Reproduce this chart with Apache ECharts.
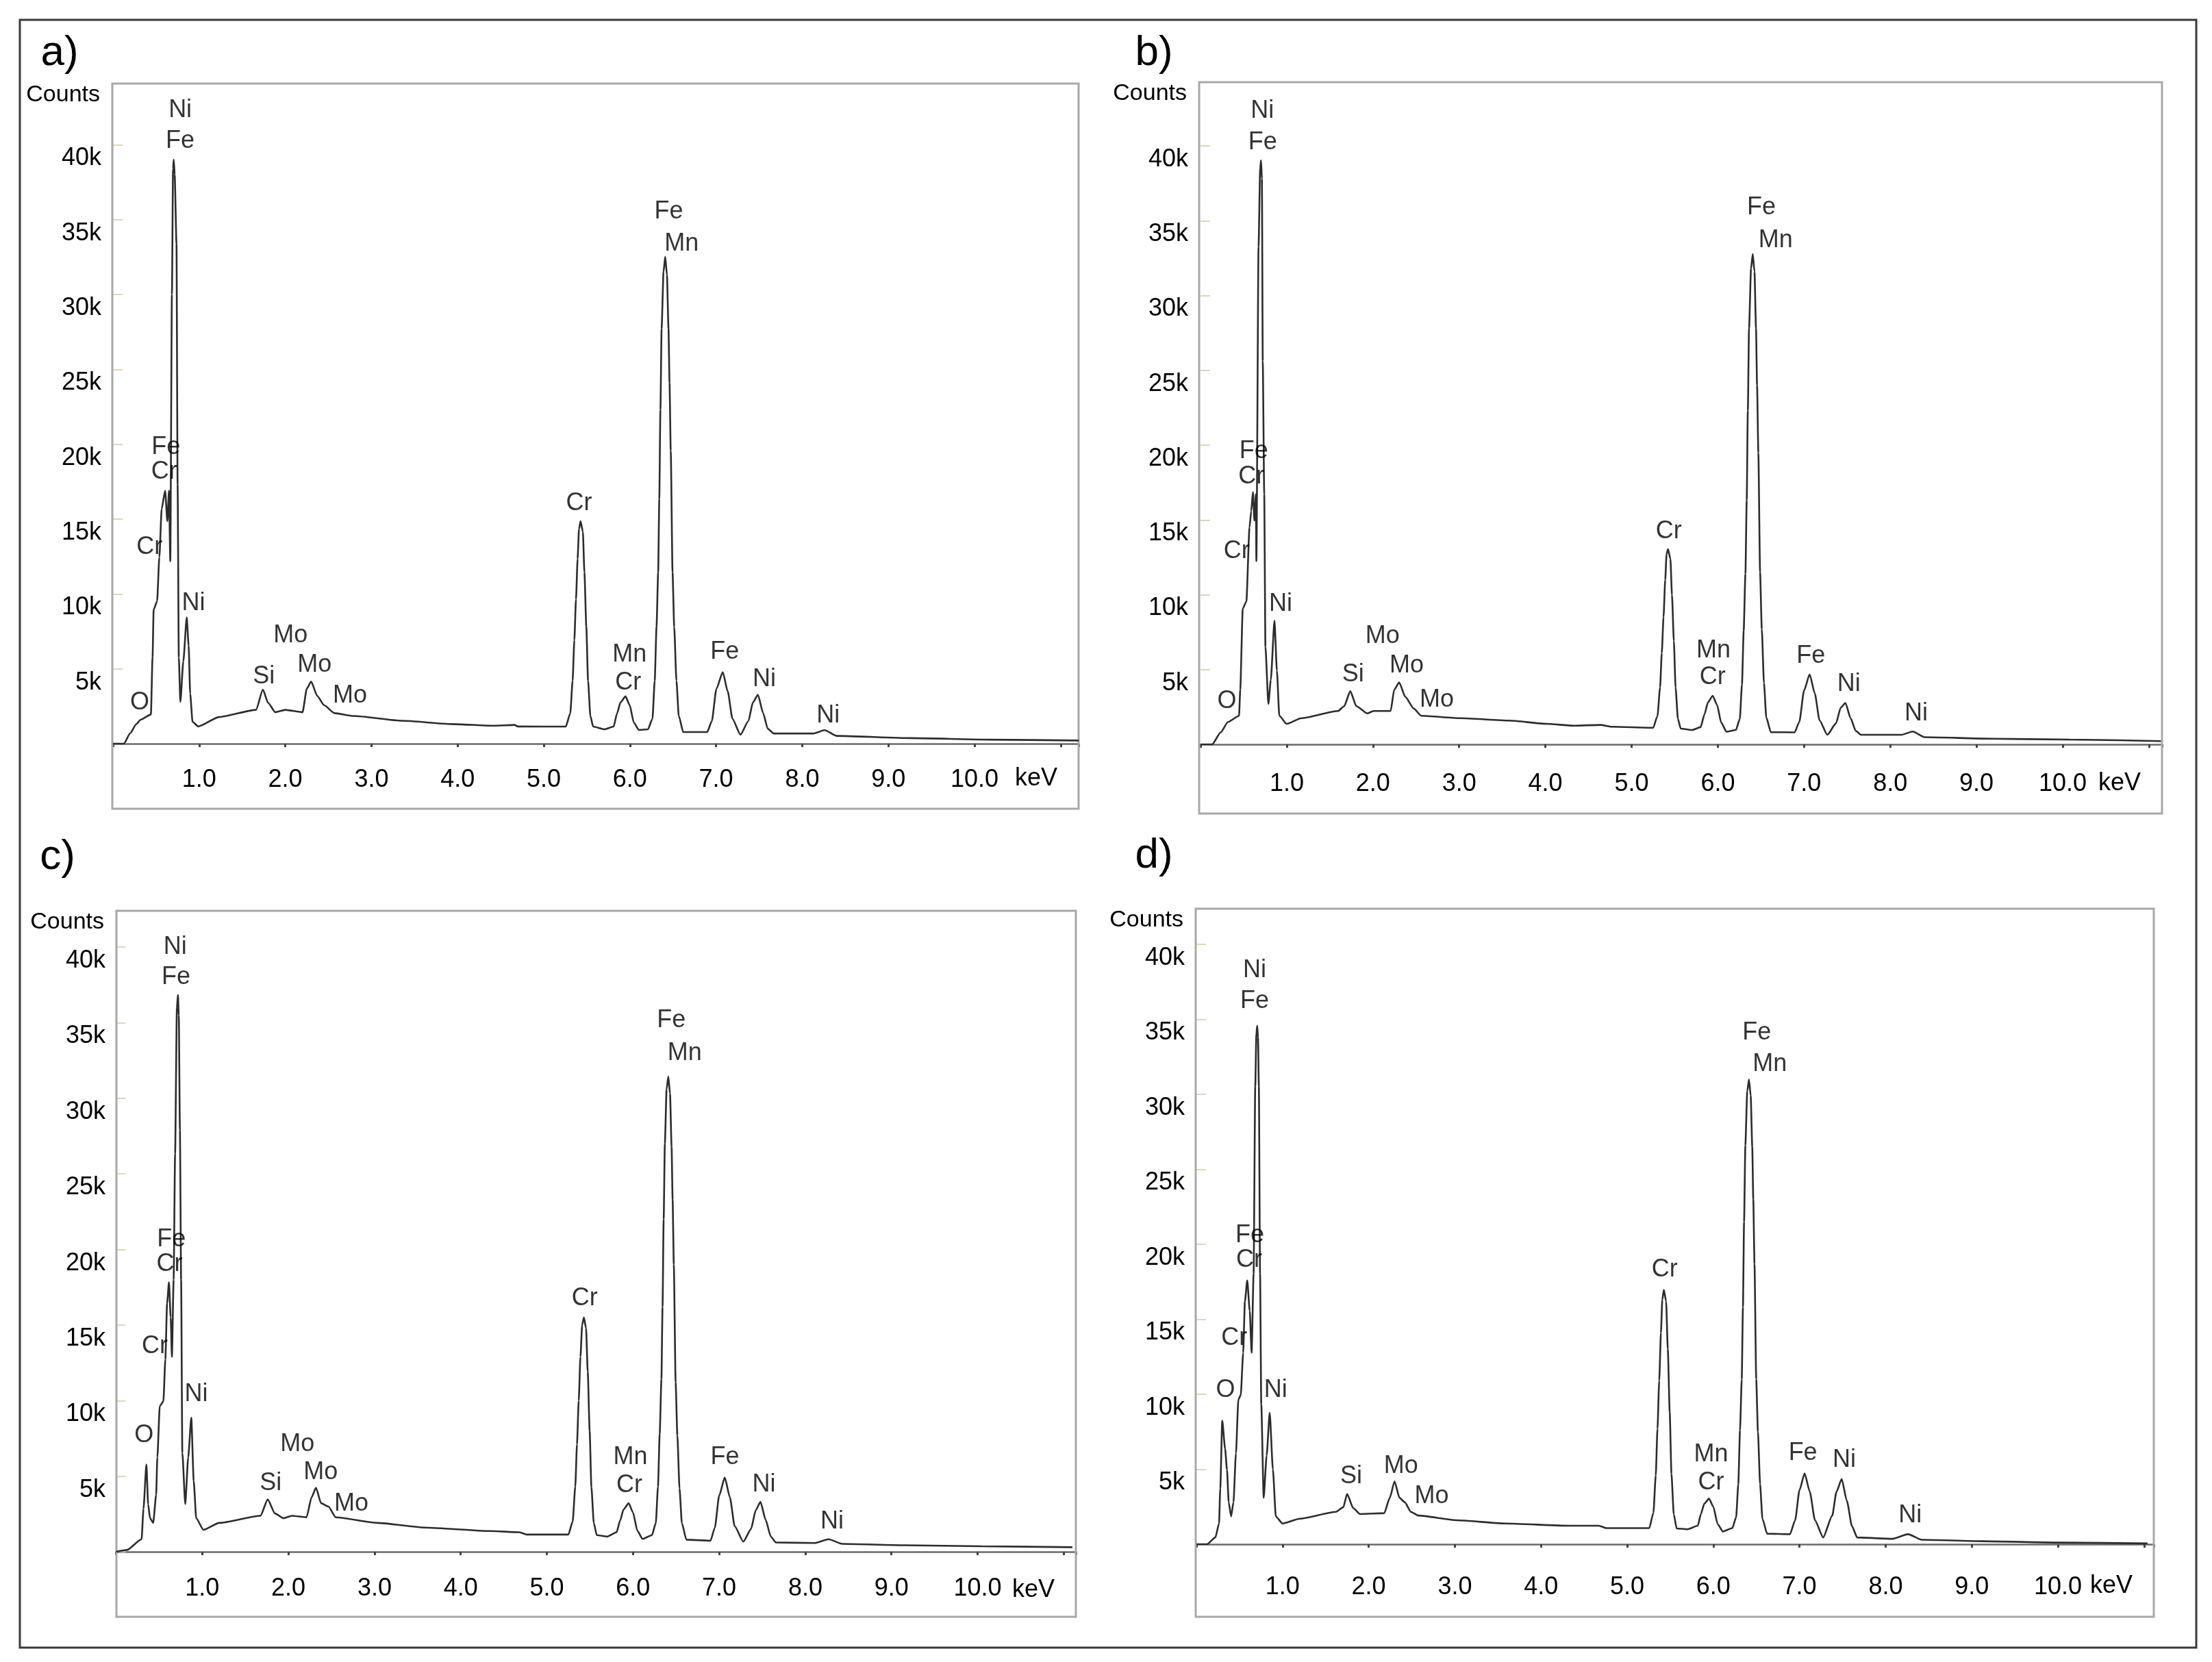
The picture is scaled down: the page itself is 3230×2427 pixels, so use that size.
<!DOCTYPE html>
<html><head><meta charset="utf-8">
<script src="https://cdn.jsdelivr.net/npm/echarts@6/dist/echarts.min.js"></script>
<style>html,body{margin:0;padding:0;background:#fff}#c{width:3230px;height:2427px}</style>
</head><body><div id="c"></div>
<script>
// ---------------- data ----------------
const panelNames = ['a)', 'b)', 'c)', 'd)'];
const xTickValues = [1, 2, 3, 4, 5, 6, 7, 8, 9, 10];
const yTickValues = [5000, 10000, 15000, 20000, 25000, 30000, 35000, 40000];
const xUnit = 'keV';
const yUnit = 'Counts';

// spectra: [keV, counts]
const spectrumA = [[0,0],[0.126,0],[0.2,700],[0.27,1300],[0.32,1600],[0.44,1950],[0.459,5760],[0.472,8960],[0.512,9510],[0.538,12450],[0.565,15680],[0.605,16900],[0.631,14860],[0.65,16900],[0.665,12180],[0.684,30000],[0.697,38400],[0.705,39000],[0.716,38000],[0.737,33380],[0.75,17290],[0.764,5760],[0.782,2790],[0.816,5490],[0.856,8430],[0.878,6550],[0.896,3340],[0.923,1460],[0.99,1150],[1.23,1780],[1.66,2260],[1.74,3610],[1.80,2730],[1.885,2100],[2.0,2260],[2.2,2100],[2.25,3680],[2.30,4150],[2.37,3200],[2.45,2570],[2.57,2040],[2.79,1850],[3.36,1530],[3.93,1310],[4.4,1200],[4.66,1250],[4.70,1150],[5.255,1140],[5.308,2035],[5.335,4210],[5.355,6920],[5.374,9630],[5.393,12350],[5.409,14330],[5.427,14860],[5.454,14150],[5.472,11440],[5.494,7820],[5.514,4210],[5.541,1860],[5.573,1140],[5.705,960],[5.811,1140],[5.851,2035],[5.891,2760],[5.949,3160],[5.997,2580],[6.045,1420],[6.103,920],[6.209,960],[6.262,1670],[6.288,4210],[6.309,7820],[6.328,11440],[6.341,16330],[6.354,22290],[6.368,27710],[6.39,31500],[6.41,32520],[6.43,31300],[6.448,27710],[6.46,24100],[6.474,19570],[6.495,11440],[6.514,7820],[6.540,4210],[6.567,1860],[6.619,780],[6.897,780],[6.951,1510],[7.004,3660],[7.078,4780],[7.136,3480],[7.19,1670],[7.283,600],[7.375,1510],[7.428,2760],[7.486,3270],[7.547,2035],[7.60,1000],[7.67,680],[8.13,680],[8.26,900],[8.40,520],[9.27,370],[10.18,270],[11.21,210]];
const spectrumB = [[0,0],[0.135,0],[0.234,800],[0.319,1500],[0.447,1910],[0.461,3660],[0.49,9070],[0.532,9550],[0.568,14480],[0.588,15590],[0.608,16860],[0.625,14960],[0.642,16710],[0.648,12250],[0.673,33250],[0.692,38500],[0.702,39040],[0.712,37800],[0.722,25620],[0.739,16710],[0.753,6520],[0.787,2700],[0.815,4300],[0.858,8270],[0.886,4930],[0.914,1910],[1.0,1370],[1.17,1750],[1.595,2230],[1.666,2550],[1.737,3560],[1.808,2550],[1.935,2070],[2.006,2230],[2.205,2230],[2.247,3660],[2.304,4140],[2.375,3180],[2.474,2390],[2.56,1910],[3.01,1750],[3.58,1590],[4.01,1370],[4.33,1250],[4.64,1300],[4.77,1180],[5.25,1110],[5.30,1900],[5.33,3800],[5.35,6100],[5.37,8500],[5.39,11000],[5.405,12700],[5.422,13050],[5.45,12400],[5.468,10000],[5.49,6900],[5.51,3800],[5.537,1700],[5.57,1050],[5.70,960],[5.80,1150],[5.845,2000],[5.885,2800],[5.94,3250],[5.99,2650],[6.04,1450],[6.10,850],[6.21,960],[6.255,1700],[6.28,4000],[6.30,7600],[6.32,11400],[6.335,16300],[6.348,22300],[6.362,27800],[6.385,31800],[6.405,32780],[6.425,31600],[6.443,27800],[6.455,24000],[6.47,19500],[6.49,11500],[6.51,7700],[6.535,4100],[6.562,1800],[6.615,820],[6.89,800],[6.945,1500],[7.0,3600],[7.065,4680],[7.125,3400],[7.18,1600],[7.27,640],[7.37,1400],[7.425,2450],[7.48,2770],[7.54,1750],[7.60,900],[7.66,640],[8.13,640],[8.26,860],[8.40,480],[9.17,380],[10.08,320],[11.14,220]];
const spectrumC = [[0,0],[0.127,120],[0.296,830],[0.318,2840],[0.352,5770],[0.372,3150],[0.394,2220],[0.431,1910],[0.465,3760],[0.479,6240],[0.507,9640],[0.549,9950],[0.572,12730],[0.592,16440],[0.614,17830],[0.634,15510],[0.648,12890],[0.668,17990],[0.685,26340],[0.706,36000],[0.718,36850],[0.728,35500],[0.741,27880],[0.755,17990],[0.769,6550],[0.803,3150],[0.837,6240],[0.873,8870],[0.901,4690],[0.93,2220],[1.014,1450],[1.197,1910],[1.676,2380],[1.76,3460],[1.845,2530],[1.944,2220],[2.04,2380],[2.21,2280],[2.27,3610],[2.32,4230],[2.38,3210],[2.465,2990],[2.55,2280],[3.03,1910],[3.59,1600],[4.34,1370],[4.68,1290],[4.77,1140],[5.25,1140],[5.30,2000],[5.33,4300],[5.35,7100],[5.37,10000],[5.39,12900],[5.41,15000],[5.43,15510],[5.455,14800],[5.475,11900],[5.497,8000],[5.517,4300],[5.545,1900],[5.58,1100],[5.70,1000],[5.81,1290],[5.85,2050],[5.89,2800],[5.95,3210],[6.0,2600],[6.05,1400],[6.11,850],[6.22,1100],[6.265,1900],[6.29,4300],[6.31,7800],[6.33,11400],[6.343,16200],[6.356,22000],[6.37,27000],[6.39,30600],[6.41,31440],[6.43,30300],[6.448,26800],[6.46,23300],[6.474,19000],[6.495,11200],[6.515,7700],[6.54,4200],[6.567,1900],[6.62,800],[6.90,730],[6.95,1600],[7.0,3700],[7.065,4910],[7.125,3600],[7.18,1700],[7.28,670],[7.37,1500],[7.425,2750],[7.48,3300],[7.54,2100],[7.60,1000],[7.66,610],[8.11,580],[8.27,830],[8.43,520],[9.15,430],[10.05,360],[11.10,300]];
const spectrumD = [[0,0],[0.122,0],[0.22,450],[0.263,1380],[0.277,3720],[0.30,8240],[0.333,6370],[0.355,4970],[0.375,2790],[0.403,1850],[0.43,2790],[0.459,6060],[0.487,9640],[0.515,9950],[0.543,12760],[0.563,16180],[0.59,17590],[0.619,15560],[0.641,12760],[0.664,18050],[0.683,30520],[0.696,34000],[0.706,34570],[0.715,33800],[0.725,30520],[0.739,18050],[0.753,9330],[0.781,3100],[0.815,5900],[0.851,8770],[0.888,4970],[0.922,1850],[1.0,1380],[1.20,1700],[1.62,2160],[1.706,2470],[1.749,3350],[1.82,2410],[1.90,2010],[2.18,2070],[2.245,3100],[2.30,4190],[2.357,3100],[2.42,2790],[2.49,2160],[2.575,1910],[3.02,1600],[3.585,1380],[4.33,1230],[4.67,1230],[4.76,1070],[5.256,1070],[5.305,2100],[5.332,4600],[5.352,7700],[5.372,10900],[5.392,14100],[5.408,16300],[5.426,16960],[5.452,16200],[5.472,13000],[5.494,8800],[5.514,4700],[5.541,2000],[5.575,1050],[5.70,1000],[5.82,1230],[5.855,2000],[5.895,2700],[5.95,3040],[6.0,2500],[6.05,1350],[6.11,850],[6.22,1070],[6.265,1800],[6.29,4000],[6.31,7600],[6.33,11000],[6.344,15800],[6.357,21500],[6.372,26600],[6.394,30200],[6.414,30990],[6.434,29900],[6.452,26500],[6.464,23000],[6.478,18700],[6.498,11000],[6.518,7500],[6.543,4000],[6.57,1700],[6.625,700],[6.89,670],[6.95,1600],[7.0,3600],[7.06,4720],[7.12,3500],[7.18,1600],[7.275,450],[7.38,1900],[7.43,3500],[7.49,4350],[7.55,2900],[7.61,1200],[7.67,450],[8.08,360],[8.26,670],[8.42,300],[9.12,200],[10.01,110],[11.04,50]];

// peak labels: [keV, counts, element]
const labelsA = [[0.78,42290,'Ni'],[0.78,40240,'Fe'],[0.614,19810,'Fe'],[0.594,18170,'Cr'],[0.424,13130,'Cr'],[0.935,9350,'Ni'],[0.31,2730,'O'],[1.75,4460,'Si'],[2.06,7210,'Mo'],[2.34,5250,'Mo'],[2.75,3200,'Mo'],[5.41,16030,'Cr'],[6.45,35510,'Fe'],[6.60,33370,'Mn'],[5.995,5950,'Mn'],[5.98,4080,'Cr'],[7.10,6140,'Fe'],[7.56,4310,'Ni'],[8.30,1850,'Ni']];
const labelsB = [[0.716,42320,'Ni'],[0.72,40250,'Fe'],[0.617,19570,'Fe'],[0.589,17910,'Cr'],[0.419,12890,'Cr'],[0.929,9390,'Ni'],[0.305,2870,'O'],[1.77,4680,'Si'],[2.11,7220,'Mo'],[2.39,5250,'Mo'],[2.74,2960,'Mo'],[5.43,14220,'Cr'],[6.505,35860,'Fe'],[6.67,33670,'Mn'],[5.95,6270,'Mn'],[5.94,4460,'Cr'],[7.08,5890,'Fe'],[7.52,4040,'Ni'],[8.30,2070,'Ni']];
const labelsC = [[0.685,40000,'Ni'],[0.696,38030,'Fe'],[0.642,20680,'Fe'],[0.62,19010,'Cr'],[0.45,13600,'Cr'],[0.93,10410,'Ni'],[0.324,7720,'O'],[1.794,4540,'Si'],[2.104,7100,'Mo'],[2.375,5250,'Mo'],[2.73,3150,'Mo'],[5.44,16750,'Cr'],[6.444,35150,'Fe'],[6.60,32980,'Mn'],[5.97,6240,'Mn'],[5.957,4380,'Cr'],[7.067,6240,'Fe'],[7.52,4450,'Ni'],[8.31,1970,'Ni']];
const labelsD = [[0.675,38250,'Ni'],[0.675,36190,'Fe'],[0.62,20610,'Fe'],[0.613,18930,'Cr'],[0.44,13760,'Cr'],[0.92,10270,'Ni'],[0.338,10270,'O'],[1.796,4500,'Si'],[2.374,5220,'Mo'],[2.73,3190,'Mo'],[5.435,18300,'Cr'],[6.504,34100,'Fe'],[6.656,32020,'Mn'],[5.974,5970,'Mn'],[5.974,4100,'Cr'],[7.04,6060,'Fe'],[7.52,5590,'Ni'],[8.285,1920,'Ni']];

// ---------------- layout (pixels) ----------------
const layouts = [
  {L:164, T:122, R:1575, B:1181, x0:165,  zeroY:1086, axisOff:8, kpx:125.8, cpx:45.73, lblM:27, tag:[87,78]},
  {L:1751,T:120, R:3157, B:1188, x0:1753, zeroY:1087, axisOff:7, kpx:125.9, cpx:45.77, lblM:33, tag:[1685,78]},
  {L:170, T:1330,R:1571, B:2361, x0:169.5,zeroY:2266, axisOff:4, kpx:125.8, cpx:45.31, lblM:32, tag:[84,1252]},
  {L:1746,T:1327,R:3145, B:2361, x0:1747, zeroY:2255, axisOff:8, kpx:125.8, cpx:45.66, lblM:37, tag:[1685,1250]}
];
const spectra = [spectrumA, spectrumB, spectrumC, spectrumD];
const labelSets = [labelsA, labelsB, labelsC, labelsD];

// pick a condensed font when one is installed, otherwise a regular one at a smaller size
function hasFont(name) {
  const ctx = document.createElement('canvas').getContext('2d');
  const t = 'Counts FeMnCrNi 10.0 40k';
  ctx.font = '40px monospace'; const a = ctx.measureText(t).width;
  ctx.font = "40px '" + name + "', monospace"; const b = ctx.measureText(t).width;
  return Math.abs(a - b) > 0.5;
}
let FONT, FS, FS_UNIT;
if (hasFont('Liberation Sans Narrow')) { FONT = "'Liberation Sans Narrow',sans-serif"; FS = 40; FS_UNIT = 39; }
else if (hasFont('Arial Narrow')) { FONT = "'Arial Narrow',sans-serif"; FS = 40; FS_UNIT = 39; }
else { FONT = "'Liberation Sans',Arial,sans-serif"; FS = 36; FS_UNIT = 34; }
const TXT = '#000';

const grids = [], xAxes = [], yAxes = [], series = [], graphics = [];

graphics.push({type:'rect', z:0, shape:{x:29, y:29, width:3207-29, height:2406-29},
  style:{fill:'none', stroke:'#3a3a3a', lineWidth:3}});

layouts.forEach((p, i) => {
  const w = p.R - p.x0, h = p.zeroY - p.T;
  grids.push({left:p.x0, top:p.T, width:w, height:h, containLabel:false});
  xAxes.push({
    type:'value', gridIndex:i, min:0, max:w / p.kpx, interval:1, offset:p.axisOff,
    axisLine:{show:true, lineStyle:{color:'#6a6a6a', width:2.5}},
    axisTick:{show:true, length:5, lineStyle:{color:'#444', width:3}},
    splitLine:{show:false},
    axisLabel:{show:true, margin:p.lblM, fontSize:FS, fontFamily:FONT, color:TXT,
      formatter: v => xTickValues.some(t => Math.abs(t - v) < 1e-6) ? v.toFixed(1) : ''},
    name:xUnit, nameLocation:'end', nameGap:-62,
    nameTextStyle:{align:'center', verticalAlign:'top', padding:[p.lblM + 6,0,0,0], fontSize:FS, fontFamily:FONT, color:TXT}
  });
  yAxes.push({
    type:'value', gridIndex:i, min:0, max:h * p.cpx, interval:5000,
    axisLine:{show:false},
    axisTick:{show:true, inside:true, length:14, lineStyle:{color:'#ddd7b5', width:2}},
    splitLine:{show:false},
    axisLabel:{show:true, margin:p.x0 - p.L + 16, fontSize:FS, fontFamily:FONT, color:TXT,
      verticalAlign:'top', lineHeight:40,
      formatter: v => yTickValues.indexOf(Math.round(v)) >= 0 && Math.abs(v - Math.round(v)) < 1e-6 ? (Math.round(v) / 1000) + 'k' : ''}
  });
  series.push({
    type:'line', xAxisIndex:i, yAxisIndex:i, data:spectra[i], showSymbol:false, symbol:'none',
    smooth:0.2, smoothMonotone:'x', silent:true, z:3,
    lineStyle:{color:'#2c2c2c', width:2.6}
  });
  series.push({
    type:'scatter', xAxisIndex:i, yAxisIndex:i, silent:true, z:4,
    symbolSize:1, itemStyle:{color:'rgba(0,0,0,0)'},
    data: labelSets[i].map(d => ({value:[d[0], d[1]], name:d[2]})),
    label:{show:true, position:'inside', formatter:'{b}', fontSize:FS, fontFamily:FONT, color:TXT,
      align:'center', verticalAlign:'middle'}
  });
  graphics.push({type:'rect', z:1, shape:{x:p.L, y:p.T, width:p.R - p.L, height:p.B - p.T},
    style:{fill:'none', stroke:'#a8a8a8', lineWidth:3}});
  graphics.push({type:'text', z:5, x:p.L - 18, y:p.T + 17,
    style:{text:yUnit, font:FS_UNIT + "px " + FONT, fill:TXT, textAlign:'right', textVerticalAlign:'middle'}});
  graphics.push({type:'text', z:5, x:p.tag[0], y:p.tag[1],
    style:{text:panelNames[i], font:"62px 'Liberation Sans',Arial,sans-serif", fill:TXT, textAlign:'center', textVerticalAlign:'middle'}});
});

const chart = echarts.init(document.getElementById('c'), null, {renderer:'canvas'});
chart.setOption({
  backgroundColor:'#ffffff', animation:false,
  grid:grids, xAxis:xAxes, yAxis:yAxes, series:series, graphic:graphics
});
</script></body></html>
